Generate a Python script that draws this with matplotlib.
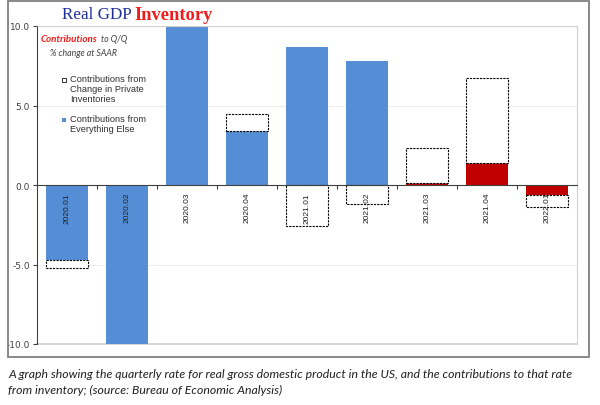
import matplotlib.pyplot as plt
from matplotlib.patches import Rectangle

quarters = ['2020.01', '2020.02', '2020.03', '2020.04', '2021.01',
            '2021.02', '2021.03', '2021.04', '2022.01']
everything_else = [-4.7, -27.7, 26.8, 3.4, 8.7, 7.8, 0.1, 1.4, -0.6]
inventories = [-0.5, -3.5, 6.6, 1.05, -2.55, -1.2, 2.2, 5.3, -0.8]
bar_colors = ['#558ED5'] * 6 + ['#C00000'] * 3
yticks = [-10, -5, 0, 5, 10]

W, H = 600, 406


def px(x, y):
    return x / W, 1 - y / H


fig = plt.figure(figsize=(6, 4.06), dpi=100)
ax = fig.add_axes([37 / W, 1 - 345 / H, 540 / W, 318 / H])
ax.set_axisbelow(False)

x = range(len(quarters))
# inventory sits on top of the rest when both have the same sign, else starts at 0
inv_bottom = [e if e * v > 0 else 0 for e, v in zip(everything_else, inventories)]

ax.bar(x, everything_else, width=0.69, color=bar_colors, zorder=1)
ax.bar(x, inventories, bottom=inv_bottom, width=0.69, color='white',
       edgecolor='black', linestyle=(0, (2, 1)), linewidth=0.8, zorder=1.2)

ax.set_xlim(-0.5, len(quarters) - 0.5)
ax.set_ylim(-10, 10)

ax.set_yticks(yticks, [f'{t:.1f}' for t in yticks])
ax.tick_params(axis='y', length=3, width=0.8, color='#404040', labelsize=6.5,
               labelcolor='#404040', pad=2)
for t in (-5, 5):
    ax.axhline(t, color='#eeeeee', lw=0.8, zorder=0)

ax.spines['bottom'].set_position(('data', 0))
ax.spines['bottom'].set_color('#404040')
ax.spines['left'].set_color('#404040')
for s in ('top', 'right'):
    ax.spines[s].set_color('#d0d0d0')
ax.axhline(-10, color='#d0d0d0', lw=1.2, clip_on=False, zorder=0.5)

ax.set_xticks([i + 0.5 for i in range(len(quarters) - 1)], [])
ax.tick_params(axis='x', which='major', length=3, width=0.8, color='#404040')
ax.set_xticks(list(x), quarters, minor=True)
ax.tick_params(axis='x', which='minor', length=0, pad=5, labelrotation=90,
               labelsize=6, labelcolor='#202020')
for lbl in ax.get_xticklabels(minor=True):
    lbl.set_fontfamily('Liberation Sans')

# outer frame
fig.patches.append(Rectangle(px(8, 358), 581 / W, 356 / H, transform=fig.transFigure,
                             fill=False, edgecolor='#808080', lw=1.3))

# title
fig.text(*px(62, 15), 'Real GDP', fontsize=12.3, family='Liberation Serif',
         color='#1F2F9A', va='center', ha='left')
fig.text(*px(134, 15), 'Inventory', fontsize=13.3, family='Liberation Serif',
         weight='bold', color='#EE1C1C', va='center', ha='left')

# subtitle
fig.text(*px(41, 39.5), 'Contributions', fontsize=7, family='Lato', style='italic',
         weight='bold', color='#EE1C1C', va='center', ha='left')
fig.text(*px(101, 39.5), 'to Q/Q', fontsize=6.3, family='Lato', style='italic',
         color='#404040', va='center', ha='left')
fig.text(*px(50, 53), '% change at SAAR', fontsize=6.3, family='Lato', style='italic',
         color='#404040', va='center', ha='left')

# legend
fig.patches.append(Rectangle(px(62, 82.5), 4 / W, 4 / H, transform=fig.transFigure,
                             facecolor='white', edgecolor='#303030', lw=0.7))
fig.text(*px(70, 74.5), 'Contributions from\nChange in Private\nInventories', fontsize=6.7,
         family='Liberation Sans', color='#303030', va='top', ha='left', linespacing=1.15)
fig.patches.append(Rectangle(px(62, 122.5), 4 / W, 4 / H, transform=fig.transFigure,
                             facecolor='#558ED5', edgecolor='none'))
fig.text(*px(70, 115), 'Contributions from\nEverything Else', fontsize=6.7,
         family='Liberation Sans', color='#303030', va='top', ha='left', linespacing=1.15)

# caption
fig.text(*px(8, 375), 'A graph showing the quarterly rate for real gross domestic product '
         'in the US, and the contributions to that rate', fontsize=8.8, family='Lato',
         style='italic', color='#202020', va='center', ha='left')
fig.text(*px(8, 390), 'from inventory; (source: Bureau of Economic Analysis)', fontsize=8.8,
         family='Lato', style='italic', color='#202020', va='center', ha='left')

fig.savefig('out.png', dpi=100)
